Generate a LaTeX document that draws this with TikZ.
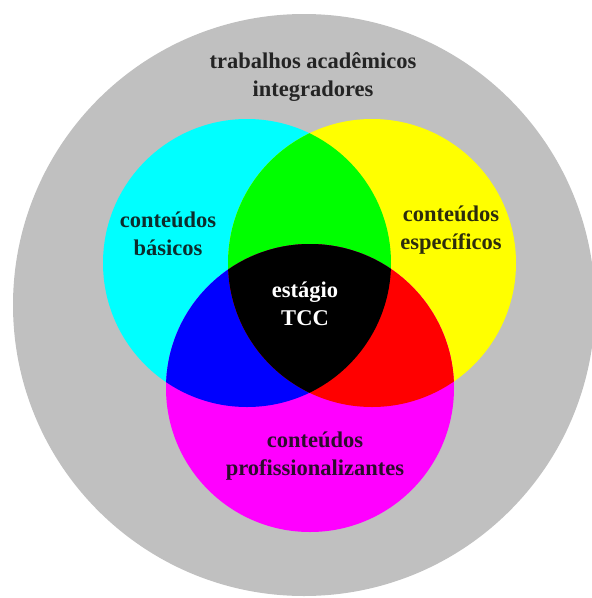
\documentclass[tikz,border=0pt]{standalone}
\usepackage{fontspec}
\setmainfont{Liberation Serif}
\definecolor{bggray}{RGB}{192,192,192}
\definecolor{ccyan}{RGB}{0,255,255}
\definecolor{cyellow}{RGB}{255,255,0}
\definecolor{cmagenta}{RGB}{255,0,255}
\definecolor{cgreen}{RGB}{0,255,0}
\definecolor{cblue}{RGB}{0,0,255}
\definecolor{cred}{RGB}{255,0,0}
\definecolor{ctext}{RGB}{15,15,15}
\begin{document}
\begin{tikzpicture}[x=1pt,y=-1pt,
  lbl/.style={align=center, font=\fontsize{22.5}{28}\selectfont\bfseries, text=ctext, text opacity=0.88, inner sep=0pt},
  wlbl/.style={lbl, text=white, text opacity=1}]
\useasboundingbox (0,0) rectangle (592,598);
\coordinate (O) at (304,305);
\coordinate (C) at (247,263);
\coordinate (Y) at (372,263);
\coordinate (M) at (310,388);
\def\R{144}
\fill[bggray] (O) circle (291);
\fill[ccyan] (C) circle (\R);
\fill[cyellow] (Y) circle (\R);
\fill[cmagenta] (M) circle (\R);
\begin{scope}
  \clip (C) circle (\R);
  \fill[cgreen] (Y) circle (\R);
  \fill[cblue] (M) circle (\R);
\end{scope}
\begin{scope}
  \clip (Y) circle (\R);
  \fill[cred] (M) circle (\R);
\end{scope}
\begin{scope}
  \clip (C) circle (\R);
  \clip (Y) circle (\R);
  \fill[black] (M) circle (\R);
\end{scope}
\node[lbl] (tai) at (313,77) {trabalhos acadêmicos\\integradores};
\node[lbl] (cb) at (168,234) {conteúdos\\básicos};
\node[lbl] (ce) at (451,230) {conteúdos\\específicos};
\node[wlbl] (tcc) at (305,304) {estágio\\TCC};
\node[lbl] (cp) at (315,456) {conteúdos\\profissionalizantes};
\end{tikzpicture}
\end{document}
